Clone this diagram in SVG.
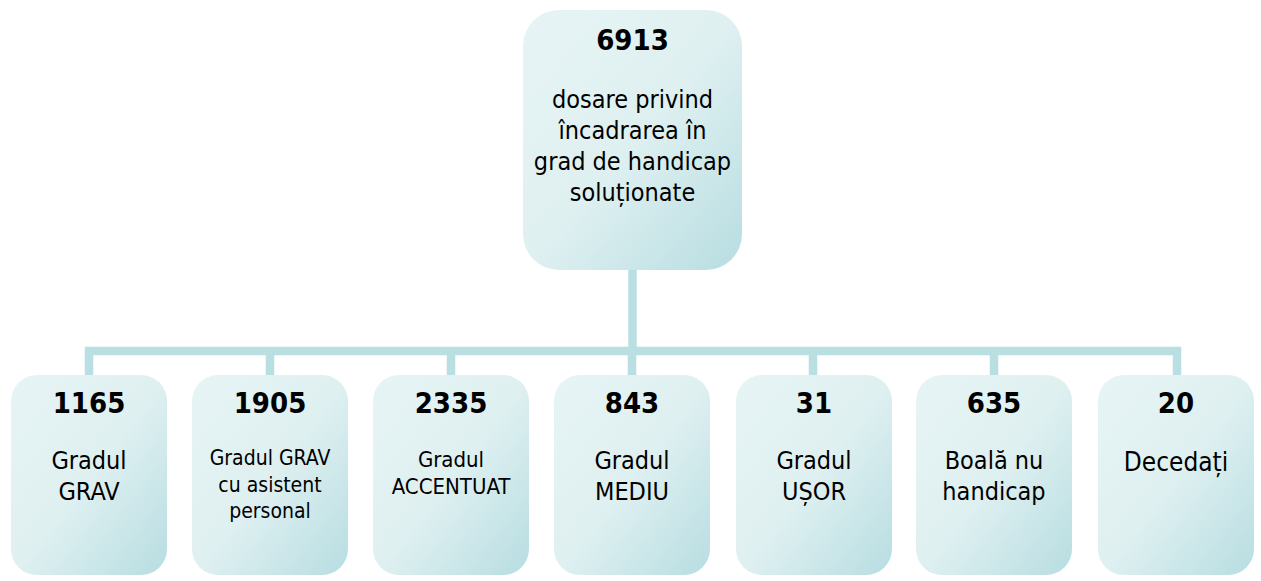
<svg xmlns="http://www.w3.org/2000/svg" width="1261" height="581" viewBox="0 0 1261 581">
<defs>
<linearGradient id="bg" x1="0" y1="0" x2="1" y2="1">
<stop offset="0" stop-color="#e7f4f5"/>
<stop offset="0.5" stop-color="#dff0f1"/>
<stop offset="1" stop-color="#b7dde1"/>
</linearGradient>
<style>
.box{fill:url(#bg);}
.num{font-family:"DejaVu Sans Condensed","DejaVu Sans",sans-serif;font-stretch:condensed;font-weight:bold;font-size:29px;fill:#000;text-anchor:middle;}
.lbl{font-family:"DejaVu Sans Condensed","DejaVu Sans",sans-serif;font-stretch:condensed;font-size:25px;fill:#000;text-anchor:middle;}
.conn{stroke:#b9dfe2;stroke-width:8.5;fill:none;}
</style>
</defs>
<rect width="1261" height="581" fill="#ffffff"/>
<g id="connectors">
<path class="conn" d="M632.5 269V351"/>
<path class="conn" d="M85 351H1181"/>
<path class="conn" d="M89 347V376M270 347V376M451 347V376M632 347V376M813 347V376M994 347V376M1177 347V376"/>
</g>
<g id="root">
<rect class="box" x="523" y="10" width="219" height="260" rx="36"/>
<text class="num" x="632.5" y="50">6913</text>
<text class="lbl" x="632.5" y="108">dosare privind</text>
<text class="lbl" x="632.5" y="139">încadrarea în</text>
<text class="lbl" x="632.5" y="170">grad de handicap</text>
<text class="lbl" x="632.5" y="201">soluționate</text>
</g>
<g id="n1">
<rect class="box" x="11" y="375" width="156" height="200" rx="26"/>
<text class="num" x="89" y="413">1165</text>
<text class="lbl" x="89" y="469">Gradul</text>
<text class="lbl" x="89" y="500">GRAV</text>
</g>
<g id="n2">
<rect class="box" x="192" y="375" width="156" height="200" rx="26"/>
<text class="num" x="270" y="413">1905</text>
<text class="lbl" x="270" y="465" style="font-size:21px">Gradul GRAV</text>
<text class="lbl" x="270" y="492" style="font-size:21px">cu asistent</text>
<text class="lbl" x="270" y="518" style="font-size:21px">personal</text>
</g>
<g id="n3">
<rect class="box" x="373" y="375" width="156" height="200" rx="26"/>
<text class="num" x="451" y="413">2335</text>
<text class="lbl" x="451" y="467" style="font-size:22px">Gradul</text>
<text class="lbl" x="451" y="494" style="font-size:22px">ACCENTUAT</text>
</g>
<g id="n4">
<rect class="box" x="554" y="375" width="156" height="200" rx="26"/>
<text class="num" x="632" y="413">843</text>
<text class="lbl" x="632" y="469">Gradul</text>
<text class="lbl" x="632" y="500">MEDIU</text>
</g>
<g id="n5">
<rect class="box" x="736" y="375" width="156" height="200" rx="26"/>
<text class="num" x="814" y="413">31</text>
<text class="lbl" x="814" y="469">Gradul</text>
<text class="lbl" x="814" y="500">UȘOR</text>
</g>
<g id="n6">
<rect class="box" x="916" y="375" width="156" height="200" rx="26"/>
<text class="num" x="994" y="413">635</text>
<text class="lbl" x="994" y="469">Boală nu</text>
<text class="lbl" x="994" y="500">handicap</text>
</g>
<g id="n7">
<rect class="box" x="1098" y="375" width="156" height="200" rx="26"/>
<text class="num" x="1176" y="413">20</text>
<text class="lbl" x="1176" y="471" style="font-size:26px">Decedați</text>
</g>
</svg>
